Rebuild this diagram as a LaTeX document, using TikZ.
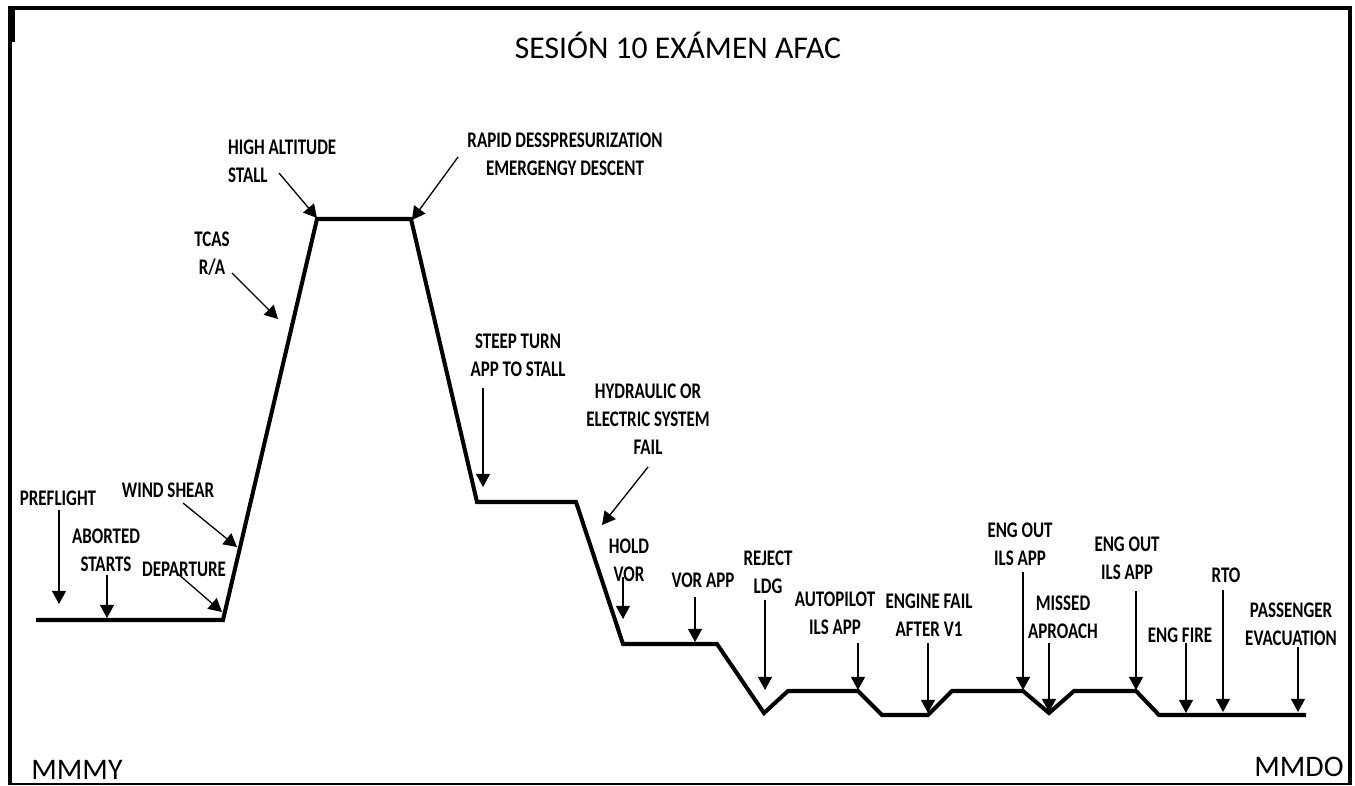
\documentclass[tikz,border=0pt]{standalone}
\usepackage{fontspec}
\setmainfont{Carlito}
\newfontfamily\lblfont[FakeStretch=0.76]{Carlito}
\usetikzlibrary{arrows.meta}
\tikzset{>={Triangle[length=7.5pt,width=8pt]}}
\tikzset{
  lbl/.style={font=\lblfont\bfseries\fontsize{12.7}{15.9}\selectfont,
    align=center, inner sep=1pt},
  callout/.style={->, line width=0.75pt},
  profile/.style={line width=2.3pt},
  station/.style={font=\fontsize{17}{20}\selectfont, inner sep=0pt}
}

\begin{document}
\begin{tikzpicture}[x=0.02cm,y=-0.02cm]
\useasboundingbox (0,0) rectangle (1355,785);
% frame
\draw[line width=2.2pt] (10,785) -- (10,8) -- (1350,8) -- (1350,785);
\draw[line width=0.6pt] (10,784) -- (1350,784);
\draw[line width=3.5pt] (12,9) -- (12,42);
\node (title) at (678,45) {\fontsize{18}{22}\selectfont SESIÓN 10 EXÁMEN AFAC};
% flight profile
\foreach \n/\x/\y in {0/36/620,1/223/620,2/317/219,3/411/219,4/477/502,
    5/576/502,6/623/644,7/717/644,8/764/713,9/788/691,10/858/691,
    11/882/715,12/928/715,13/952/691,14/1023/691,15/1049/713,
    16/1074/691,17/1136/691,18/1159/715,19/1306/715}
  \coordinate (p\n) at (\x,\y);
\draw[profile] (p0) \foreach \n in {1,...,19} { -- (p\n) };
% labels
\node[lbl] (preflight) at (58,498) {PREFLIGHT};
\node[lbl] (aborted) at (106,550) {ABORTED\\STARTS};
\node[lbl] (windshear) at (168,490) {WIND SHEAR};
\node[lbl] (departure) at (184,569) {DEPARTURE};
\node[lbl] (tcas) at (212,254) {TCAS\\R/A};
\node[lbl,align=left,anchor=west] (highalt) at (226,161) {HIGH ALTITUDE\\STALL};
\node[lbl] (rapid) at (565,154) {RAPID DESSPRESURIZATION\\EMERGENGY DESCENT};
\node[lbl] (steep) at (518,355) {STEEP TURN\\APP TO STALL};
\node[lbl] (hydraulic) at (648,419) {HYDRAULIC OR\\ELECTRIC SYSTEM\\FAIL};
\node[lbl] (hold) at (629,560) {HOLD\\VOR};
\node[lbl] (vorapp) at (703,580) {VOR APP};
\node[lbl] (reject) at (768,572) {REJECT\\LDG};
\node[lbl] (autopilot) at (835,613) {AUTOPILOT\\ILS APP};
\node[lbl] (enginefail) at (929,615) {ENGINE FAIL\\AFTER V1};
\node[lbl] (engout1) at (1020,544) {ENG OUT\\ILS APP};
\node[lbl] (missed) at (1063,617) {MISSED\\APROACH};
\node[lbl] (engout2) at (1127,558) {ENG OUT\\ILS APP};
\node[lbl] (engfire) at (1180,635) {ENG FIRE};
\node[lbl] (rto) at (1226,575) {RTO};
\node[lbl] (passenger) at (1291,624) {PASSENGER\\EVACUATION};
\node[station] (mmmy) at (77,770) {MMMY};
\node[station] (mmdo) at (1299,767) {MMDO};
% callouts
\foreach \n/\x/\y/\u/\v in {preflight/59/510/59/604, aborted/107/575/107/618,
    departure/177/573/222/612, windshear/183/503/237/547,
    tcas/232/273/278/319, highalt/279/173/317/218,
    rapid/458/157/412/220, steep/483/388/483/487,
    hydraulic/648/467/602/525, hold/623/577/623/619,
    vorapp/695/597/695/642, reject/765/600/765/690,
    autopilot/858/643/858/690, enginefail/928/643/928/713,
    engout1/1023/572/1023/690, missed/1049/643/1049/712,
    engout2/1136/591/1136/690, engfire/1186/643/1186/713,
    rto/1223/590/1223/712, passenger/1298/647/1298/712} {
  \coordinate (\n-tail) at (\x,\y);
  \coordinate (\n-tip) at (\u,\v);
}
\foreach \n in {preflight,aborted,departure,windshear,tcas,highalt,rapid,
    steep,hydraulic,hold,vorapp,reject,autopilot,enginefail,engout1,
    missed,engout2,engfire,rto,passenger}
  \draw[callout] (\n-tail) -- (\n-tip);
\end{tikzpicture}
\end{document}
